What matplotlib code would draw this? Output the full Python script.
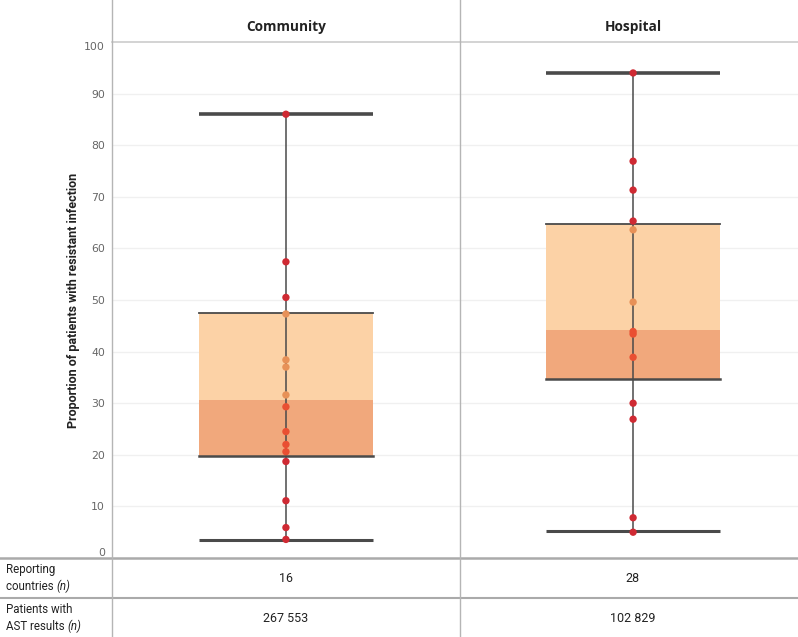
import matplotlib
matplotlib.use("Agg")
import matplotlib.pyplot as plt
from matplotlib.lines import Line2D
from matplotlib import font_manager
import numpy as np

# ---- data ----
categories = ["Community", "Hospital"]
whisker_low = [3.5, 5.2]
q1 = [19.8, 34.7]
median = [30.6, 44.2]
q3 = [47.5, 64.7]
whisker_high = [86.0, 94.0]
community_points = [86.0, 57.4, 50.5, 47.3, 38.4, 37.0, 31.6, 29.3, 24.5, 22.0,
                    20.6, 18.7, 11.1, 5.9, 3.6]
hospital_points = [94.0, 76.9, 71.3, 65.3, 63.6, 49.6, 43.9, 43.4, 38.9, 30.0,
                   26.9, 7.8, 5.0]
points = [community_points, hospital_points]
reporting_countries = ["16", "28"]
patients_ast = ["267 553", "102 829"]
yticks = [0, 10, 20, 30, 40, 50, 60, 70, 80, 90, 100]

available = {f.name for f in font_manager.fontManager.ttflist}
if "Liberation Sans Narrow" in available:
    tfont = ["Liberation Sans Narrow", "DejaVu Sans"]
    lsize, nsize = 9.5, 9.5
else:
    tfont = ["Roboto", "DejaVu Sans"]
    lsize, nsize = 8.3, 9

W, H = 798, 637
fig = plt.figure(figsize=(W / 100, H / 100), dpi=100)

def fx(px):
    return px / W

def fy(py):
    return 1 - py / H

ax_left, ax_right, ax_top, ax_bottom = 112, 798, 42, 558
ax = fig.add_axes([fx(ax_left), fy(ax_bottom), fx(ax_right - ax_left), (ax_bottom - ax_top) / H])
ax.set_ylim(0, 100)
ax.set_xlim(-0.501, 1.475)
for s in ax.spines.values():
    s.set_visible(False)
ax.set_xticks([])
ax.set_yticks(yticks)
ax.tick_params(axis="y", length=0, pad=5, labelsize=7.8, labelcolor="#666666")
labels = ax.get_yticklabels()
labels[0].set_va("bottom")
labels[-1].set_va("top")
for t in yticks[1:-1]:
    ax.axhline(t, color="#f0f0f0", lw=1, zorder=0)
ax.set_ylabel("Proportion of patients with resistant infection", fontsize=9,
              color="#222222", labelpad=3, family=tfont, fontweight=600)

light = "#fcd2a6"
dark = "#f1a87c"
gray = "#4a4a4a"
bw = 0.5
for i, cat in enumerate(categories):
    x0, x1 = i - bw / 2, i + bw / 2
    ax.fill_between([x0, x1], median[i], q3[i], color=light, lw=0, zorder=1)
    ax.fill_between([x0, x1], q1[i], median[i], color=dark, lw=0, zorder=1)
    ax.plot([i, i], [whisker_low[i], whisker_high[i]], color=gray, lw=1.1, zorder=2)
    ax.plot([x0, x1], [q3[i], q3[i]], color=gray, lw=1.3, zorder=2)
    ax.plot([x0, x1], [q1[i], q1[i]], color=gray, lw=1.8, zorder=2)
    ax.plot([x0, x1], [whisker_low[i], whisker_low[i]], color=gray, lw=2.2, zorder=2, solid_capstyle="butt")
    ax.plot([x0, x1], [whisker_high[i], whisker_high[i]], color=gray, lw=2.6, zorder=2, solid_capstyle="butt")
    vals = np.array(points[i])
    cols = []
    for v in vals:
        if q1[i] + 0.5 < v < median[i]:
            cols.append("#e94f32")
        elif q1[i] < v <= q1[i] + 0.5:
            cols.append("#e8702a")
        elif median[i] <= v <= q3[i]:
            cols.append("#e79158")
        else:
            cols.append("#cf2a33")
    ax.scatter(np.full(len(vals), i), vals, s=28, c=cols, edgecolors="none", zorder=3)

# header titles and frame lines
centers_px = [286, 633]
for i, cat in enumerate(categories):
    fig.text(fx(centers_px[i]), fy(27), cat, ha="center", va="center",
             fontsize=9.8, fontweight="bold", color="#222222", family="Open Sans")

def hline(y, x0, x1, color, lw):
    fig.add_artist(Line2D([fx(x0), fx(x1)], [fy(y), fy(y)], color=color, lw=lw))

def vline(x, y0, y1, color, lw):
    fig.add_artist(Line2D([fx(x), fx(x)], [fy(y0), fy(y1)], color=color, lw=lw))

hline(42, 112, 798, "#cccccc", 1.2)
hline(558, 0, 798, "#aaaaaa", 1.8)
hline(598, 0, 798, "#aaaaaa", 1.5)
vline(112, 0, 637, "#b5b5b5", 1.0)
vline(460, 0, 637, "#b5b5b5", 1.0)

renderer = fig.canvas.get_renderer()

def row_label(y, line1, line2):
    fig.text(fx(6), fy(y - 8.5), line1, ha="left", va="center",
             fontsize=lsize, color="#222222", family=tfont)
    t = fig.text(fx(6), fy(y + 8.5), line2 + " ", ha="left", va="center",
                 fontsize=lsize, color="#222222", family=tfont)
    bb = t.get_window_extent(renderer=renderer)
    fig.text(bb.x1 / W, fy(y + 8.5), "(n)", ha="left", va="center",
             fontsize=lsize, color="#222222", family=tfont, style="italic")

row_label(578, "Reporting", "countries")
row_label(618, "Patients with", "AST results")
for i in range(2):
    fig.text(fx(centers_px[i]), fy(578), reporting_countries[i], ha="center", va="center",
             fontsize=nsize, color="#222222", family=tfont)
    fig.text(fx(centers_px[i]), fy(618), patients_ast[i], ha="center", va="center",
             fontsize=nsize, color="#222222", family=tfont)

fig.savefig("out.png", dpi=100, facecolor="white")
